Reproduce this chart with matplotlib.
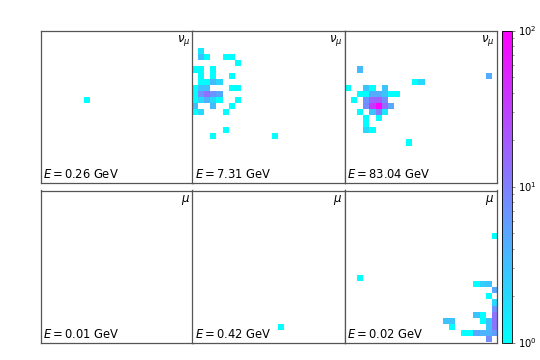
import numpy as np
import matplotlib
matplotlib.use('Agg')
import matplotlib.pyplot as plt
from matplotlib.colors import LogNorm

N_BINS = 25
labels = [r'$\nu_\mu$'] * 3 + [r'$\mu$'] * 3
energies = [0.26, 7.31, 83.04, 0.01, 0.42, 0.02]

# (row, column, hits)
hits_a = [(11, 7, 1)]
hits_b = [(3,1,1.5),(4,1,3),(4,2,1),(4,5,1),(4,6,1),(5,7,1),(6,0,1),(6,1,1),(6,3,1),
          (7,1,1),(7,3,1),(7,6,1),(8,1,1),(8,2,1),(8,3,3.5),(8,4,2),(9,0,1),(9,1,3),
          (9,2,3),(9,6,1),(9,7,1),(10,0,1),(10,1,7),(10,2,13),(10,3,7),(10,4,5),
          (11,0,1),(11,1,2),(11,2,4),(11,3,2),(11,4,1),(11,7,1),(12,0,3.5),(12,3,3.5),
          (12,6,1),(13,0,1),(13,1,2),(13,5,1),(16,5,1),(17,3,1),(17,13,1)]
hits_c = [(6,2,3.5),(7,23,4.5),(8,11,1),(8,12,2),(9,0,1),(9,3,3),(9,4,1),(9,6,3),
          (10,2,1),(10,3,1),(10,4,4.5),(10,5,4.5),(10,6,3),(10,7,1),(10,8,1),
          (11,1,1),(11,3,7),(11,4,16),(11,5,18),(11,6,8),
          (12,3,8),(12,4,35),(12,5,100),(12,6,15),(12,7,5),
          (13,2,1),(13,4,3),(13,5,11),(13,6,1.5),(14,3,1),(14,5,1),(15,3,1),
          (16,3,2),(16,4,1),(18,10,1)]
hits_d = []
hits_e = [(22, 14, 1)]
hits_f = [(7,24,1),(14,2,1),(15,21,1),(15,22,2.5),(15,23,3),(16,24,5),(17,23,1),(18,24,2),
          (19,24,7),(20,21,3),(20,22,1),(20,24,12),(21,16,3),(21,17,3),(21,22,1),(21,23,3),
          (21,24,12),(22,17,1),(22,23,3),(22,24,12),(23,19,1),(23,20,1),(23,21,5),(23,22,4),
          (23,23,4),(23,24,6),(24,23,8)]
panels = [hits_a, hits_b, hits_c, hits_d, hits_e, hits_f]

W, H = 5.4, 3.6
fig = plt.figure(figsize=(W, H), dpi=100)
cmap = plt.get_cmap('cool').copy()
cmap.set_bad('white')
norm = LogNorm(vmin=1, vmax=100)

x0, y_tops, size = 40.5, [30.5, 190.5], 152
im = None
for i, hits in enumerate(panels):
    c, r = i % 3, i // 3
    ax = fig.add_axes([(x0 + c * size) / 540, 1 - (y_tops[r] + size) / 360, size / 540, size / 360])
    grid = np.full((N_BINS, N_BINS), np.nan)
    for row, col, v in hits:
        grid[row, col] = v
    im = ax.imshow(np.ma.masked_invalid(grid), cmap=cmap, norm=norm, aspect='auto',
                   interpolation='nearest', extent=(0, N_BINS, N_BINS, 0))
    ax.set_xticks([])
    ax.set_yticks([])
    for s in ax.spines.values():
        s.set_linewidth(0.9)
        s.set_color('#555555')
    ax.text(0.015, 0.012, rf'$E = {energies[i]:.2f}$ GeV', transform=ax.transAxes,
            fontsize=8.3, ha='left', va='bottom')
    ax.text(0.985, 0.985, labels[i], transform=ax.transAxes, fontsize=8.5, ha='right', va='top')

cax = fig.add_axes([502 / 540, 1 - 342.5 / 360, 10 / 540, 312 / 360])
cb = fig.colorbar(im, cax=cax)
cb.ax.tick_params(labelsize=7.2, length=2.5, width=0.5, which='major', pad=2, color='#555555')
cb.ax.tick_params(length=1.5, width=0.4, which='minor', color='#555555')
cb.outline.set_linewidth(0.6)
fig.savefig('out.png', dpi=100)
